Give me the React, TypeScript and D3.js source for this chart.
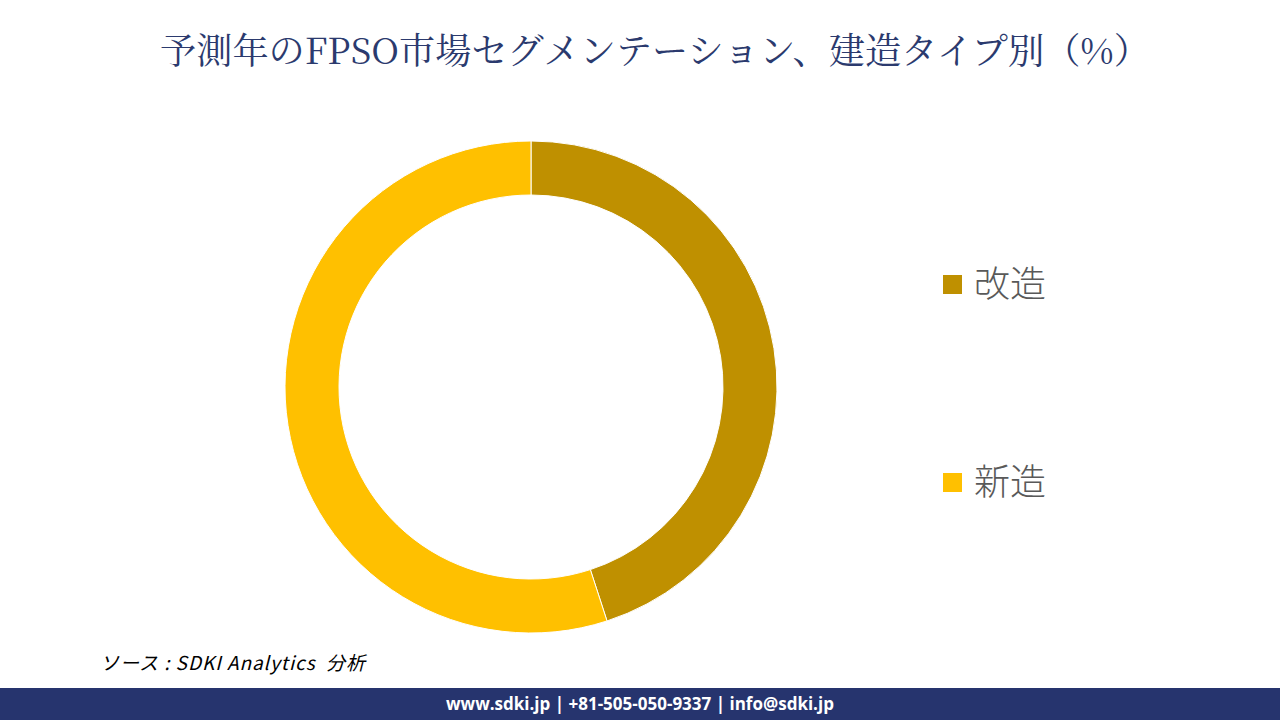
import React from "react";
import * as d3 from "d3";

const categories = ["改造", "新造"];
const values = [45, 55];
const colors = ["#BF9000", "#FFC000"];
const titleText = "予測年のFPSO市場セグメンテーション、建造タイプ別（%）";
const sourceText = "ソース : SDKI Analytics  分析";
const footerText = "www.sdki.jp | +81-505-050-9337 | info@sdki.jp";

export default function App() {
  const W = 1280, H = 720;
  const cx = 531, cy = 387, rOuter = 246, rInner = 192;
  const pie = d3.pie<number>().sort(null).value((d) => d)(values);
  const arc = d3.arc<d3.PieArcDatum<number>>().innerRadius(rInner).outerRadius(rOuter);
  const legendY = d3.scalePoint<string>().domain(categories).range([285, 483]);
  return (
    <div style={{ position: "fixed", left: 0, top: 0 }}>
      <svg width={W} height={H} style={{ display: "block", background: "#fff" }}>
        <text x={655} y={64} textAnchor="middle" fontFamily="'Noto Serif CJK JP','DejaVu Serif','Liberation Serif',serif" fontSize={36} fill="#2B3A6E" textLength={990} lengthAdjust="spacingAndGlyphs">
          {titleText}
        </text>
        <g transform={`translate(${cx},${cy})`}>
          {pie.map((p, i) => (
            <path key={i} d={arc(p) || ""} fill={colors[i]} stroke="#fff" strokeWidth={1} />
          ))}
        </g>
        {categories.map((c, i) => (
          <g key={c} transform={`translate(943,${legendY(c)})`}>
            <rect x={0} y={-10} width={19} height={19} fill={colors[i]} />
            <text x={31} y={12} fontFamily="'Noto Sans CJK JP',sans-serif" fontWeight={300} fontSize={36} fill="#595959">{c}</text>
          </g>
        ))}
        <text x={100} y={670} fontFamily="'Noto Sans CJK JP','Open Sans',sans-serif" fontStyle="italic" fontSize={19} fill="#000" style={{ whiteSpace: "pre" }} textLength={265} lengthAdjust="spacing">
          {sourceText}
        </text>
        <rect x={0} y={688} width={W} height={32} fill="#26346E" />
        <text x={640} y={710} textAnchor="middle" fontFamily="'Open Sans','Noto Sans',sans-serif" fontWeight="bold" fontSize={17} fill="#fff">
          {footerText}
        </text>
      </svg>
    </div>
  );
}
